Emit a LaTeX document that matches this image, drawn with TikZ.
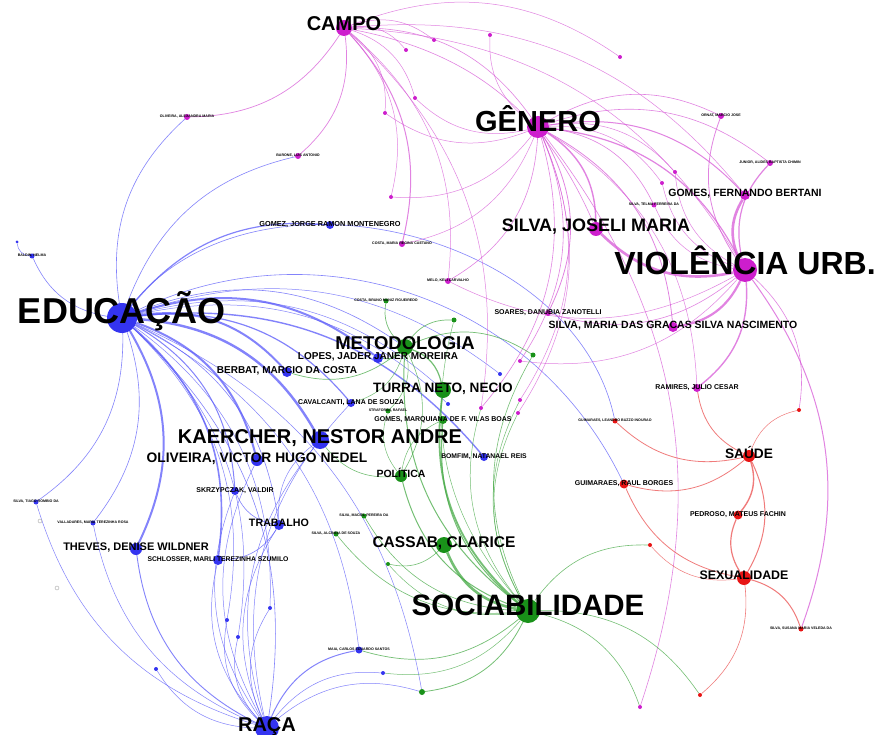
\documentclass[tikz,border=0pt]{standalone}
\usepackage{fontspec}
\setmainfont{Liberation Sans}
\usetikzlibrary{positioning}
\pgfdeclarelayer{paper}
\pgfdeclarelayer{edges}
\pgfsetlayers{paper,edges,main}
\definecolor{nblue}{RGB}{52,52,240}
\definecolor{nmag}{RGB}{205,30,205}
\definecolor{ngreen}{RGB}{25,145,25}
\definecolor{nred}{RGB}{232,20,20}
\definecolor{eblue}{RGB}{90,90,250}
\definecolor{emag}{RGB}{215,90,215}
\definecolor{egreen}{RGB}{70,170,70}
\definecolor{ered}{RGB}{235,80,80}

\begin{document}
\begin{tikzpicture}[x=1pt, y=-1pt,
    dot/.style={circle, inner sep=0pt, minimum size=#1 pt},
    lbl/.style={font=\bfseries\fontsize{#1}{#1}\selectfont, anchor=base, inner sep=0pt},
    link/.style={line width=#1 pt, opacity=.75},
    ring/.style={circle, draw=black!35, inner sep=0pt, minimum size=4pt}
  ]
    \begin{pgfonlayer}{paper}
    \fill[white] (0,0) rectangle (880,735);
    \end{pgfonlayer}
    \useasboundingbox (0,0) rectangle (880,735);

    % nodes
    \foreach \n/\x/\y/\d in {edu/122/318/30, raca/267/728/24, kaer/320/440/18, oliv/257/460/12,
      thev/136/549/12, lopes/378/358/10, berb/287/372/10, trab/279/525/10, schl/218/560/10,
      skrz/235/491/8, caval/351/403/8, bomf/484/457/8, gomez/330/225/8, maia/359/650/7,
      baldin/32/256/5, baldinb/17/242/3, tiago/36/502/5, valla/93/523/5, b1/156/669/4,
      b2/227/620/4, b3/238/637/4, b4/270/608/4, b5/383/673/4, b6/500/374/4, b7/448/404/4}
      \node[dot=\d, fill=nblue] (\n) at (\x,\y) {};
    \foreach \n/\x/\y/\d in {genero/538/127/22, campo/344/28/16, viol/745/270/24, joseli/596/229/14,
      gomesf/745/195/10, gracas/673/327/10, ramires/697/388/8, soares/548/313/6, alex/187/117/6,
      barone/298/156/6, costamr/402/244/6, melo/448/281/6, ornat/721/116/6, junior/770/163/6,
      telma/654/205/5, m1/434/40/4, m2/490/35/4, m3/406/50/4, m4/415/98/4, m5/385/113/4,
      m6/391/197/4, m7/620/57/4, m8/675/172/4, m9/662/183/4, m10/520/361/4, m11/481/408/4,
      m12/520/400/4, m13/518/413/4, m14/640/707/4}
      \node[dot=\d, fill=nmag] (\n) at (\x,\y) {};
    \foreach \n/\x/\y/\d in {sociab/528/611/24, metod/405/347/16, turra/443/390/16, cassab/444/545/16,
      polit/401/476/12, gomesm/443/420/8, costab/386/301/5, kern/454/320/5, brunes/533/355/5,
      strafo/388/411/5, maciel/364/516/5, alcin/336/534/5, frieb/422/692/6, g1/388/564/4}
      \node[dot=\d, fill=ngreen] (\n) at (\x,\y) {};
    \foreach \n/\x/\y/\d in {saude/749/456/12, sexu/744/578/14, guimr/624/484/9, pedro/738/515/9,
      guiml/615/421/5, susana/801/629/5, r1/799/410/4, r2/650/545/4, r3/700/695/4}
      \node[dot=\d, fill=nred] (\n) at (\x,\y) {};
    \node[ring] (h1) at (40,521) {};
    \node[ring] (h2) at (57,588) {};

    \begin{pgfonlayer}{edges}
    \foreach \t/\w in {alex/.6, barone/.6, gomez/1.2, baldin/.6, lopes/2, berb/2, caval/1.2,
      kaer/2.4, oliv/2, bomf/1.4, skrz/1, trab/.6, thev/2, schl/1.6, valla/.6, tiago/.6, raca/.6,
      b6/.5, b7/.5, metod/.6, turra/.5, frieb/.5, maia/.5, b4/.5, b2/.5, b3/.5}
      \draw[link=\w, eblue] (edu) to[bend left=28] (\t);
    \draw[link=.6, eblue] (edu) to[bend left=65] (guiml);
    \draw[link=.6, eblue] (edu) to[bend left=45] (guimr);
    \draw[link=.5, eblue] (baldin) to[bend left=40] (baldinb);
    \foreach \t/\w in {tiago/.5, valla/.5, thev/.9, schl/.5, skrz/.5, trab/.5, oliv/.5, kaer/.5,
      b1/.5, b2/.5, b3/.5, b4/.5, maia/1, b5/.5, frieb/.5, caval/.5}
      \draw[link=\w, eblue] (raca) to[bend left=28] (\t);
    \foreach \t/\w in {schl/.6, skrz/.6, kaer/.5}
      \draw[link=\w, eblue] (trab) to[bend left=28] (\t);

    \foreach \t/\w in {alex/.7, barone/.7, m3/.5, m1/.5, m5/.5, m4/.5, m6/.5, costamr/1,
      genero/.6, viol/.5, joseli/.6, melo/.5, m11/.5, gomesf/.5, m7/.5}
      \draw[link=\w, emag] (campo) to[bend left=28] (\t);
    \foreach \t/\w in {m2/.5, ornat/.6, junior/.6, gomesf/1, viol/1.2, joseli/1.4, telma/.6,
      m8/.5, m9/.5, soares/.8, melo/.6, gracas/.8, m10/.6, m11/.6, m12/.5, m13/.5, m4/.5,
      m5/.5, m6/.5, costamr/.5, ramires/.5, m14/.6}
      \draw[link=\w, emag] (genero) to[bend left=28] (\t);
    \foreach \t/\w in {joseli/2.6, gomesf/2.6, gracas/2.2, ramires/1.4, ornat/.8, junior/1.2,
      r1/.6, susana/1, telma/.5, m8/.5, m9/.5, soares/.6, m10/.5, melo/.5}
      \draw[link=\w, emag] (viol) to[bend left=28] (\t);

    \foreach \t/\w in {cassab/2.6, turra/1.8, metod/1, gomesm/1, polit/1, maciel/.6, alcin/.6,
      g1/.5, maia/.7, b5/.5, frieb/.8, r2/.6, r3/.6, m14/.6, brunes/.6, m11/.5, m12/.5,
      m13/.5, kern/.5}
      \draw[link=\w, egreen] (sociab) to[bend left=28] (\t);
    \foreach \t/\w in {costab/.7, kern/.7, brunes/.7, lopes/.8, berb/.7, turra/1.2, strafo/.5,
      polit/.6, caval/.5}
      \draw[link=\w, egreen] (metod) to[bend left=28] (\t);
    \foreach \t/\w in {kaer/.6, strafo/.5, gomesm/.5}
      \draw[link=\w, egreen] (polit) to[bend left=28] (\t);
    \draw[link=.6, egreen] (cassab) to[bend left=28] (g1);

    \foreach \t/\w in {guiml/.8, guimr/.8, ramires/.8, pedro/1.4, sexu/1, r1/.5}
      \draw[link=\w, ered] (saude) to[bend left=28] (\t);
    \foreach \t/\w in {guimr/.8, pedro/1.2, susana/1, r2/.5, r3/.6}
      \draw[link=\w, ered] (sexu) to[bend left=28] (\t);
    \end{pgfonlayer}

    % labels
    \foreach \n/\s/\t in {edu/36/EDUCAÇÃO, viol/32/VIOLÊNCIA URB., sociab/29.5/SOCIABILIDADE,
      genero/29/GÊNERO, campo/20/CAMPO, raca/20/RAÇA, {kaer/20/KAERCHER, NESTOR ANDRE},
      {joseli/18/SILVA, JOSELI MARIA}, metod/18.5/METODOLOGIA, {cassab/15.5/CASSAB, CLARICE},
      {turra/13.6/TURRA NETO, NECIO}, {oliv/13.8/OLIVEIRA, VICTOR HUGO NEDEL}, saude/13.7/SAÚDE,
      sexu/12.4/SEXUALIDADE, {thev/11/THEVES, DENISE WILDNER},
      {gracas/10.5/SILVA, MARIA DAS GRACAS SILVA NASCIMENTO}, {gomesf/10.5/GOMES, FERNANDO BERTANI},
      {lopes/10/LOPES, JADER JANER MOREIRA}, {berb/10/BERBAT, MARCIO DA COSTA}, polit/10.5/POLÍTICA,
      trab/10.7/TRABALHO, {gomez/7.3/GOMEZ, JORGE RAMON MONTENEGRO}, {soares/7/SOARES, DANUBIA ZANOTELLI},
      {caval/7/CAVALCANTI, LANA DE SOUZA}, {gomesm/7/GOMES, MARQUIANA DE F. VILAS BOAS},
      {bomf/6.8/BOMFIM, NATANAEL REIS}, {skrz/7/SKRZYPCZAK, VALDIR},
      {schl/6.8/SCHLOSSER, MARLI TEREZINHA SZUMILO}, {guimr/7/GUIMARAES, RAUL BORGES},
      {pedro/7/PEDROSO, MATEUS FACHIN}, {ramires/7/RAMIRES, JULIO CESAR},
      {alex/3.6/OLIVEIRA, ALEXANDRA MARIA}, {barone/3.6/BARONE, LUIS ANTONIO},
      {costamr/3.6/COSTA, MARIA REGINA CAETANO}, {melo/3.6/MELO, KELI CARVALHO},
      {costab/3.6/COSTA, BRUNO MUNIZ FIGUEIREDO}, {strafo/3.6/STRAFORINI, RAFAEL},
      {ornat/3.6/ORNAT, MARCIO JOSE}, {junior/3.6/JUNIOR, ALIDES BAPTISTA CHIMIN},
      {telma/3.6/SILVA, TELMA FERREIRA DA}, {baldin/3.6/BALDIN, NELMA},
      {tiago/3.6/SILVA, TIAGO ROMBIO DA}, {valla/3.6/VALLADARES, MARIA TEREZINHA ROSA},
      {guiml/3.6/GUIMARAES, LEANDRO BUZZO INOURAO}, {maciel/3.6/SILVA, MACIEL PEREIRA DA},
      {alcin/3.6/SILVA, ALCINEIA DE SOUZA}, {maia/3.6/MAIA, CARLOS EDUARDO SANTOS},
      {susana/3.6/SILVA, SUSANA MARIA VELEDA DA}} {
      \pgfmathsetmacro\dy{0.15*\s}
      \node[lbl=\s] (\n-l) at ([yshift=-\dy pt]\n) {\t};
    }
\end{tikzpicture}
\end{document}
